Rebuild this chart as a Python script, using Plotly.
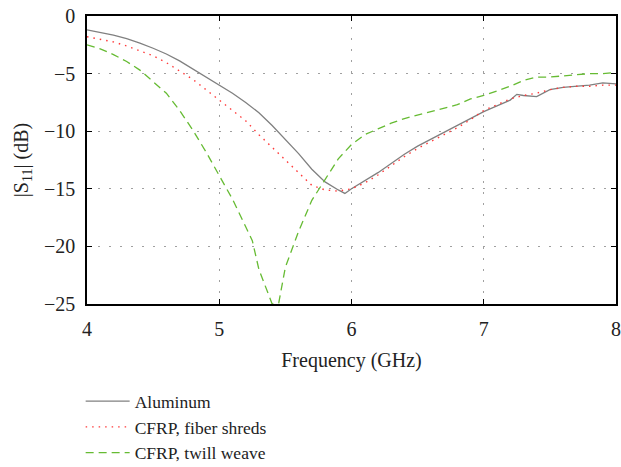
import plotly.graph_objects as go

alu_f = [4.0,4.1,4.2,4.3,4.4,4.5,4.6,4.7,4.8,4.9,5.0,5.1,5.2,5.3,5.4,5.5,5.6,5.7,5.8,5.9,5.95,6.0,6.1,6.2,6.3,6.4,6.5,6.6,6.7,6.8,6.9,7.0,7.1,7.2,7.25,7.3,7.4,7.5,7.6,7.7,7.8,7.9,8.0]
alu_s = [-1.2,-1.4,-1.65,-1.97,-2.35,-2.8,-3.3,-3.9,-4.6,-5.35,-6.0,-6.7,-7.5,-8.4,-9.5,-10.7,-11.95,-13.3,-14.4,-15.1,-15.4,-15.0,-14.3,-13.6,-12.8,-12.0,-11.3,-10.7,-10.1,-9.5,-8.9,-8.3,-7.8,-7.3,-6.8,-6.9,-7.0,-6.4,-6.2,-6.1,-6.0,-5.8,-5.9]

shr_f = [4.0,4.1,4.2,4.3,4.4,4.5,4.6,4.7,4.8,4.9,5.0,5.1,5.2,5.3,5.4,5.5,5.6,5.7,5.8,5.9,6.0,6.1,6.2,6.3,6.4,6.5,6.6,6.7,6.8,6.9,7.0,7.1,7.2,7.3,7.4,7.5,7.6,7.7,7.8,7.9,8.0]
shr_s = [-1.8,-2.0,-2.25,-2.6,-3.0,-3.45,-4.05,-4.75,-5.5,-6.4,-7.3,-8.15,-9.1,-10.3,-11.4,-12.5,-13.6,-14.7,-15.1,-15.2,-15.0,-14.5,-13.8,-13.0,-12.2,-11.5,-10.9,-10.3,-9.7,-9.0,-8.2,-7.7,-7.2,-6.9,-6.7,-6.4,-6.2,-6.1,-6.1,-6.0,-6.0]

twl_f = [4.0,4.1,4.2,4.3,4.4,4.5,4.6,4.7,4.8,4.9,5.0,5.1,5.2,5.25,5.3,5.35,5.4,5.45,5.5,5.6,5.7,5.8,5.9,6.0,6.1,6.2,6.3,6.4,6.5,6.6,6.7,6.8,6.9,7.0,7.1,7.2,7.3,7.4,7.5,7.6,7.7,7.8,7.9,8.0]
twl_s = [-2.5,-2.85,-3.35,-3.95,-4.7,-5.7,-6.7,-8.2,-9.9,-11.8,-13.8,-15.9,-18.3,-19.5,-22.0,-23.5,-25.0,-24.9,-21.8,-18.7,-16.0,-14.2,-12.4,-11.15,-10.3,-9.8,-9.3,-8.9,-8.6,-8.3,-8.0,-7.7,-7.2,-6.9,-6.5,-6.1,-5.6,-5.3,-5.3,-5.2,-5.1,-5.0,-5.0,-4.9]

x_ticks = [4, 5, 6, 7, 8]
y_ticks = [0, -5, -10, -15, -20, -25]
y_labels = ["0", "\u22125", "\u221210", "\u221215", "\u221220", "\u221225"]

font = "Liberation Serif"
txt = "#222222"
fig = go.Figure()
fig.add_trace(go.Scatter(x=alu_f, y=alu_s, mode="lines", name="Aluminum",
                         line=dict(color="#808080", width=1.3)))
fig.add_trace(go.Scatter(x=shr_f, y=shr_s, mode="lines", name="CFRP, fiber shreds",
                         line=dict(color="#ff3a3a", width=1.4, dash="1.5px,5px")))
fig.add_trace(go.Scatter(x=twl_f, y=twl_s, mode="lines", name="CFRP, twill weave",
                         line=dict(color="#66bb33", width=1.3, dash="8px,5px")))

axis_common = dict(showline=True, linecolor="black", linewidth=1.5, mirror="ticks",
                   ticks="inside", ticklen=5, tickcolor="black", zeroline=False,
                   showgrid=True, gridcolor="#a0a0a0", griddash="2px,9px", gridwidth=1,
                   automargin=False,
                   tickfont=dict(family=font, size=20, color=txt))
fig.update_xaxes(range=[4, 8], tickvals=x_ticks, ticktext=[str(v) for v in x_ticks],
                 ticklabelstandoff=6,
                 title=dict(text="Frequency (GHz)", font=dict(family=font, size=20, color=txt), standoff=14),
                 **axis_common)
fig.update_yaxes(range=[-25, 0], tickvals=y_ticks, ticktext=y_labels,
                 ticklabelstandoff=6,
                 title=dict(text="|S<sub>11</sub>| (dB)", font=dict(family=font, size=20, color=txt), standoff=10),
                 **axis_common)

fig.update_layout(width=621, height=467,
                  margin=dict(l=87, r=5, t=16, b=163, autoexpand=False),
                  plot_bgcolor="white", paper_bgcolor="white",
                  legend=dict(x=-0.012, y=-0.275, xanchor="left", yanchor="top",
                              font=dict(family=font, size=17.5, color=txt), itemwidth=44,
                              bgcolor="rgba(0,0,0,0)", tracegroupgap=0),
                  showlegend=True)
fig.write_html("out.html")
